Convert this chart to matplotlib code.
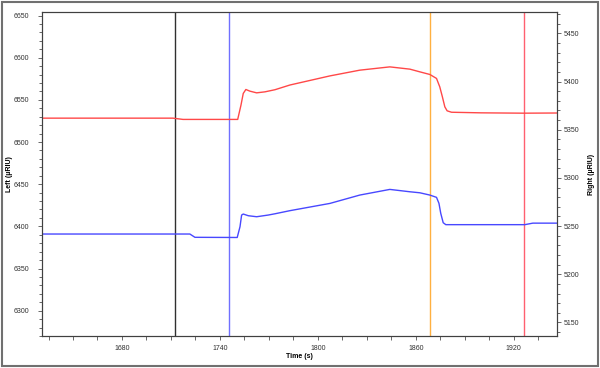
import matplotlib
matplotlib.use("Agg")
import matplotlib.pyplot as plt
from matplotlib.patches import Rectangle
from matplotlib.ticker import MultipleLocator

plt.rcParams['font.family'] = ['Liberation Sans', 'DejaVu Sans']

# Dati (tempo in s, segnale in uRIU, asse sinistro)
t_red = [1631, 1711.2, 1717.4, 1750.9, 1752.9, 1754.3, 1755.9, 1758.4, 1762.5,
         1767.6, 1773.7, 1782.9, 1807.4, 1825.7, 1844.1, 1856.4, 1862.5, 1868.6,
         1872.7, 1874.7, 1876.3, 1877.8, 1879.2, 1881.9, 1900, 1926, 1946.4]
v_red = [6528.3, 6528.3, 6526.8, 6526.8, 6543.7, 6557.6, 6562.3, 6560.3, 6558.3,
         6559.5, 6562.0, 6567.6, 6578.4, 6585.2, 6589.1, 6586.4, 6583.2, 6580.1,
         6575.4, 6565.4, 6553.6, 6541.7, 6537.0, 6535.3, 6534.6, 6534.2, 6534.4]

t_blue = [1631, 1721.6, 1724.7, 1750.6, 1752.3, 1753.3, 1754.3, 1757.4, 1762.5,
          1769.6, 1773.7, 1782.9, 1807.4, 1825.7, 1844.1, 1856.4, 1862.5, 1868.6,
          1872.7, 1874.2, 1875.3, 1876.8, 1878.4, 1926.8, 1931.7, 1946.4]
v_blue = [6390.9, 6390.9, 6387.0, 6386.8, 6399.5, 6413.4, 6414.6, 6412.6, 6411.4,
          6413.4, 6414.9, 6418.6, 6427.2, 6437.1, 6443.8, 6441.0, 6439.8, 6437.1,
          6434.4, 6427.3, 6415.4, 6404.3, 6402.0, 6402.0, 6403.8, 6403.8]

# Linee verticali (marker temporali)
vlines_t = [1712.5, 1745.5, 1868.6, 1926.2]
vlines_col = ['#303030', '#7070ff', '#ffb040', '#ff6070']

xlim = (1631, 1946.4)
ylim_left = (6270, 6654)
ylim_right = (5136, 5472)

fig = plt.figure(figsize=(6, 3.68), dpi=100)
ax = fig.add_axes([0.07, 0.087, 0.858, 0.88])

for tv, c in zip(vlines_t, vlines_col):
    ax.axvline(tv, color=c, linewidth=1)

ax.plot(t_red, v_red, color='#ff4848', linewidth=1)
ax.plot(t_blue, v_blue, color='#4848ff', linewidth=1)

ax.set_xlim(*xlim)
ax.set_ylim(*ylim_left)
ax.xaxis.set_major_locator(MultipleLocator(60))
ax.xaxis.set_minor_locator(MultipleLocator(15))
ax.yaxis.set_major_locator(MultipleLocator(50))
ax.yaxis.set_minor_locator(MultipleLocator(10))

ax2 = ax.twinx()
ax2.set_ylim(*ylim_right)
ax2.yaxis.set_major_locator(MultipleLocator(50))
ax2.yaxis.set_minor_locator(MultipleLocator(10))

for a in (ax, ax2):
    a.tick_params(which='major', length=3)
    a.tick_params(which='minor', length=2)
    a.tick_params(which='both', labelsize=5, colors='#505050', width=0.6,
                  labelcolor='#303030')
    for s in a.spines.values():
        s.set_color('#404040')
        s.set_linewidth(0.8)
ax.tick_params(axis='x', which='minor', length=3)
ax.tick_params(axis='x', pad=3.5)
ax.tick_params(axis='y', pad=6)
ax2.tick_params(axis='y', pad=2)

ax.set_xlabel('Time (s)', fontsize=5, fontweight='bold')
ax.set_ylabel('Left (µRIU)', fontsize=5, fontweight='bold')
ax2.set_ylabel('Right (µRIU)', fontsize=5, fontweight='bold')
ax.xaxis.set_label_coords(0.5, -0.052)
ax.yaxis.set_label_coords(-0.056, 0.5)
ax2.yaxis.set_label_coords(1.061, 0.5)

# Cornice esterna
fig.patches.append(Rectangle((0.004, 0.006), 0.992, 0.988, transform=fig.transFigure,
                             fill=False, edgecolor='#707070', linewidth=1.5))

fig.savefig('out.png', dpi=100)
